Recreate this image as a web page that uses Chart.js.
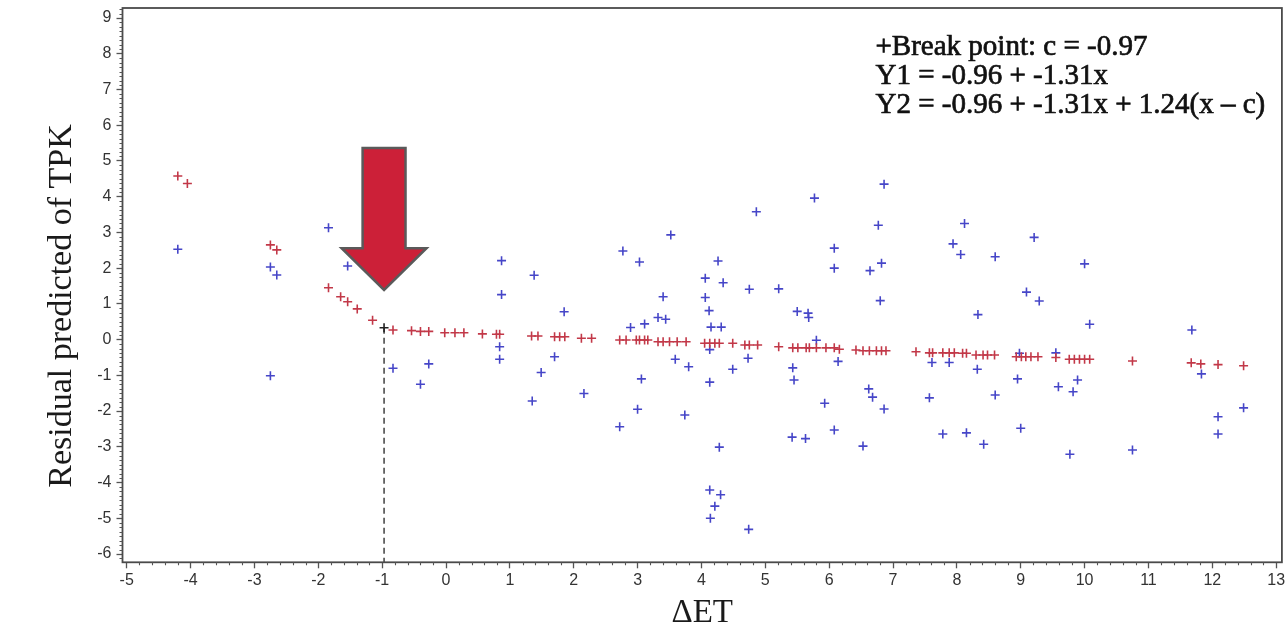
<!DOCTYPE html>
<html>
<head>
<meta charset="utf-8">
<script src="https://cdn.jsdelivr.net/npm/chart.js@4.4.1/dist/chart.umd.min.js"></script>
<style>
  html, body { margin: 0; padding: 0; background: #ffffff; }
  canvas { display: block; }
</style>
</head>
<body>
<canvas id="chart" width="1288" height="633"></canvas>
<script>
// Axis tick values
const xTickValues = [-5, -4, -3, -2, -1, 0, 1, 2, 3, 4, 5, 6, 7, 8, 9, 10, 11, 12, 13];
const yTickValues = [-6, -5, -4, -3, -2, -1, 0, 1, 2, 3, 4, 5, 6, 7, 8, 9];

// Observed residuals (blue)
const observedX = [
  -4.20, -2.75, -2.65, -2.75, -1.84, -1.54, -0.83, -0.27, -0.40,
  0.87, 0.87, 0.84, 0.84, 1.38, 1.85, 1.70, 1.49, 1.35, 2.16,
  2.77, 3.03, 3.52, 3.40, 3.32, 3.44, 2.89, 3.11, 2.72, 3.00, 3.06, 3.59, 3.80, 3.74,
  4.26, 4.06, 4.34, 4.06, 4.12, 4.15, 4.31, 4.13, 4.13, 4.49, 4.73, 4.75, 4.86,
  4.28, 4.13, 4.30, 4.21, 4.14, 4.74,
  5.21, 5.77, 5.50, 5.67, 5.68, 5.80, 5.43, 5.45, 5.93, 5.42, 5.63,
  6.08, 6.08, 6.08, 6.14, 6.86, 6.77, 6.82, 6.64, 6.80, 6.62, 6.68, 6.86, 6.53,
  7.57, 7.61, 7.88, 7.78, 8.12, 7.94, 8.06, 8.60, 8.33, 8.32, 8.60, 8.15, 8.42,
  9.21, 9.09, 9.29, 8.98, 8.95, 9.00, 9.55, 9.59, 9.89, 9.82, 9.77,
  10.00, 10.08, 10.75, 11.68, 11.83, 12.09, 12.09, 12.49
];
const observedY = [
  2.53, 2.03, 1.81, -1.01, 3.13, 2.06, -0.80, -0.68, -1.25,
  2.21, 1.26, -0.20, -0.55, 1.80, 0.78, -0.48, -0.92, -1.72, -1.51,
  2.48, 2.17, 2.93, 1.20, 0.62, 0.57, 0.34, 0.44, -2.44, -1.95, -1.10, -0.55, -0.76, -2.11,
  2.20, 1.72, 1.59, 1.18, 0.81, 0.35, 0.35, -0.28, -1.19, -0.83, -0.52, 1.41, 3.58,
  -3.01, -4.21, -4.34, -4.66, -5.00, -5.31,
  1.42, 3.96, 0.79, 0.74, 0.62, -0.02, -0.79, -1.13, -1.78, -2.73, -2.77,
  2.56, 2.00, -2.53, -0.61, 4.35, 3.20, 2.14, 1.93, 1.09, -1.38, -1.61, -1.94, -2.98,
  -1.63, -0.64, -0.64, -2.64, 3.25, 2.68, 2.38, 2.32, 0.70, -0.83, -1.55, -2.61, -2.93,
  2.86, 1.33, 1.08, -0.38, -1.10, -2.48, -0.37, -1.32, -1.13, -1.46, -3.21,
  2.12, 0.43, -3.09, 0.27, -0.96, -2.16, -2.64, -1.91
];

// Predicted values from the segmented fit (red)
const fittedX = [
  -4.20, -4.05, -2.75, -2.65, -1.84, -1.65, -1.54, -1.39, -1.15,
  -0.83, -0.54, -0.40, -0.27, -0.02, 0.14, 0.28, 0.57, 0.79, 0.84,
  1.34, 1.44, 1.70, 1.78, 1.86, 2.12, 2.28,
  2.72, 2.82, 2.98, 3.03, 3.11, 3.16, 3.32, 3.40, 3.50, 3.62, 3.76,
  4.05, 4.13, 4.21, 4.28, 4.49, 4.68, 4.75, 4.88, 5.21,
  5.43, 5.51, 5.64, 5.69, 5.80, 5.95, 6.08, 6.16, 6.42,
  6.53, 6.63, 6.74, 6.82, 6.89, 7.36, 7.57, 7.62, 7.78, 7.88, 7.96,
  8.09, 8.15, 8.30, 8.41, 8.48, 8.59, 8.93, 9.01, 9.08, 9.16, 9.27, 9.55,
  9.76, 9.84, 9.92, 10.00, 10.08, 10.75, 11.67, 11.82, 12.09, 12.49
];
const fittedY = [
  4.58, 4.37, 2.65, 2.51, 1.45, 1.20, 1.06, 0.86, 0.54,
  0.27, 0.25, 0.23, 0.23, 0.19, 0.19, 0.19, 0.16, 0.15, 0.15,
  0.10, 0.10, 0.08, 0.08, 0.08, 0.04, 0.04,
  -0.01, -0.01, -0.01, -0.01, -0.01, -0.01, -0.06, -0.06, -0.06, -0.06, -0.06,
  -0.10, -0.10, -0.10, -0.10, -0.10, -0.15, -0.15, -0.15, -0.20,
  -0.23, -0.23, -0.23, -0.23, -0.23, -0.23, -0.23, -0.27, -0.29,
  -0.31, -0.31, -0.31, -0.31, -0.31, -0.34, -0.37, -0.37, -0.37, -0.37, -0.37,
  -0.38, -0.38, -0.43, -0.43, -0.43, -0.43, -0.48, -0.48, -0.48, -0.48, -0.48, -0.50,
  -0.55, -0.55, -0.55, -0.55, -0.55, -0.60, -0.65, -0.68, -0.70, -0.73
];

// Estimated break point of the piecewise fit
const breakPointX = [-0.97];
const breakPointY = [0.33];

const equationLines = [
  '+Break point: c = -0.97',
  'Y1 = -0.96 + -1.31x',
  'Y2 = -0.96 + -1.31x + 1.24(x \u2013 c)'
];
const yAxisTitle = 'Residual predicted of TPK';
const xAxisTitle = '\u0394ET';

const toPoints = (xs, ys) => xs.map((v, i) => ({ x: v, y: ys[i] }));

// Callout arrow, in data units around the break point
const arrowShape = { halfShaft: 0.336, halfHead: 0.665, top: 5.36, headBase: 2.56, tip: 1.39 };

const plotNotes = {
  id: 'plotNotes',
  beforeDatasetsDraw(chart) {
    const { ctx, chartArea: a, scales: { x, y } } = chart;
    ctx.save();
    ctx.strokeStyle = '#222';
    ctx.lineWidth = 1.3;
    ctx.setLineDash([6, 4]);
    const px = x.getPixelForValue(breakPointX[0]);
    ctx.beginPath();
    ctx.moveTo(px, y.getPixelForValue(breakPointY[0]));
    ctx.lineTo(px, a.bottom);
    ctx.stroke();
    ctx.restore();
  },
  afterDatasetsDraw(chart) {
    const { ctx, scales: { x, y } } = chart;
    const c = breakPointX[0];
    const X = v => x.getPixelForValue(v);
    const Y = v => y.getPixelForValue(v);
    ctx.save();
    ctx.beginPath();
    ctx.moveTo(X(c - arrowShape.halfShaft), Y(arrowShape.top));
    ctx.lineTo(X(c + arrowShape.halfShaft), Y(arrowShape.top));
    ctx.lineTo(X(c + arrowShape.halfShaft), Y(arrowShape.headBase));
    ctx.lineTo(X(c + arrowShape.halfHead), Y(arrowShape.headBase));
    ctx.lineTo(X(c), Y(arrowShape.tip));
    ctx.lineTo(X(c - arrowShape.halfHead), Y(arrowShape.headBase));
    ctx.lineTo(X(c - arrowShape.halfShaft), Y(arrowShape.headBase));
    ctx.closePath();
    ctx.fillStyle = '#cc2038';
    ctx.fill();
    ctx.strokeStyle = '#5a5a5a';
    ctx.lineWidth = 2.5;
    ctx.lineJoin = 'miter';
    ctx.stroke();
    ctx.restore();
  },
  afterDraw(chart) {
    const { ctx, chartArea: a, scales: { x, y } } = chart;
    ctx.save();
    // frame
    ctx.strokeStyle = '#4a4a4a';
    ctx.lineWidth = 1.8;
    ctx.strokeRect(a.left, a.top, a.width, a.height);
    // minor ticks
    ctx.lineWidth = 1.1;
    ctx.strokeStyle = '#555';
    ctx.beginPath();
    for (let k = xTickValues[0]; k < xTickValues[xTickValues.length - 1]; k++) {
      for (let j = 1; j < 5; j++) {
        const px = Math.round(x.getPixelForValue(k + j / 5)) + 0.5;
        ctx.moveTo(px, a.bottom);
        ctx.lineTo(px, a.bottom + 3);
      }
    }
    for (let k = -7; k <= 9; k++) {
      for (let j = 1; j < 8; j++) {
        const v = k + j / 8;
        if (v < y.min || v > y.max) continue;
        const py = Math.round(y.getPixelForValue(v)) + 0.5;
        ctx.moveTo(a.left - 3, py);
        ctx.lineTo(a.left, py);
      }
    }
    ctx.stroke();
    // y axis title
    ctx.fillStyle = '#1a1a1a';
    ctx.font = '34px "Liberation Serif"';
    ctx.textAlign = 'center';
    ctx.textBaseline = 'alphabetic';
    ctx.translate(71, 306);
    ctx.rotate(-Math.PI / 2);
    ctx.fillText(yAxisTitle, 0, 0);
    ctx.restore();
    // fit equations, slightly heavier than plain text
    ctx.save();
    ctx.fillStyle = '#111';
    ctx.strokeStyle = '#111';
    ctx.lineWidth = 0.7;
    ctx.font = '29px "Liberation Serif"';
    ctx.textAlign = 'left';
    ctx.textBaseline = 'alphabetic';
    equationLines.forEach((t, i) => {
      ctx.fillText(t, a.left + 753, 55 + i * 29);
      ctx.strokeText(t, a.left + 753, 55 + i * 29);
    });
    ctx.restore();
  }
};

const tickFont = { family: '"Liberation Sans", Arial, sans-serif', size: 16 };

new Chart(document.getElementById('chart'), {
  type: 'scatter',
  data: {
    datasets: [
      {
        label: 'Break point',
        data: toPoints(breakPointX, breakPointY),
        pointStyle: 'cross', pointRadius: 4.5, pointBorderWidth: 1.6,
        borderColor: '#222', backgroundColor: '#222'
      },
      {
        label: 'Predicted',
        data: toPoints(fittedX, fittedY),
        pointStyle: 'cross', pointRadius: 4.5, pointBorderWidth: 1.6,
        borderColor: '#c23848', backgroundColor: '#c23848'
      },
      {
        label: 'Observed',
        data: toPoints(observedX, observedY),
        pointStyle: 'cross', pointRadius: 4.5, pointBorderWidth: 1.6,
        borderColor: '#4646c8', backgroundColor: '#4646c8'
      }
    ]
  },
  options: {
    responsive: false,
    animation: false,
    devicePixelRatio: 1,
    layout: { padding: { top: 8, right: 5.3, bottom: 0, left: 0 } },
    plugins: { legend: { display: false }, tooltip: { enabled: false } },
    scales: {
      x: {
        type: 'linear',
        min: -5.066,
        max: 13.09,
        afterBuildTicks: s => { s.ticks = xTickValues.map(v => ({ value: v })); },
        afterFit: s => { s.height = 70.7; s.paddingLeft = 0; s.paddingRight = 0; },
        grid: { display: true, drawOnChartArea: false, drawTicks: true, tickLength: 6, tickColor: '#555', tickWidth: 1.3 },
        border: { display: false },
        ticks: { font: tickFont, color: '#333', padding: 3, maxRotation: 0, autoSkip: false, callback: v => String(v) },
        title: { display: true, text: xAxisTitle, color: '#1a1a1a', font: { family: '"Liberation Serif"', size: 33 }, padding: { top: 0, bottom: 0 } }
      },
      y: {
        type: 'linear',
        min: -6.232,
        max: 9.28,
        afterBuildTicks: s => { s.ticks = yTickValues.map(v => ({ value: v })); },
        afterFit: s => { s.width = 122.5; s.paddingTop = 0; s.paddingBottom = 0; },
        grid: { display: true, drawOnChartArea: false, drawTicks: true, tickLength: 6, tickColor: '#555', tickWidth: 1.3 },
        border: { display: false },
        ticks: { font: tickFont, color: '#333', padding: 5, autoSkip: false, callback: v => String(v) }
      }
    }
  },
  plugins: [plotNotes]
});
</script>
</body>
</html>
